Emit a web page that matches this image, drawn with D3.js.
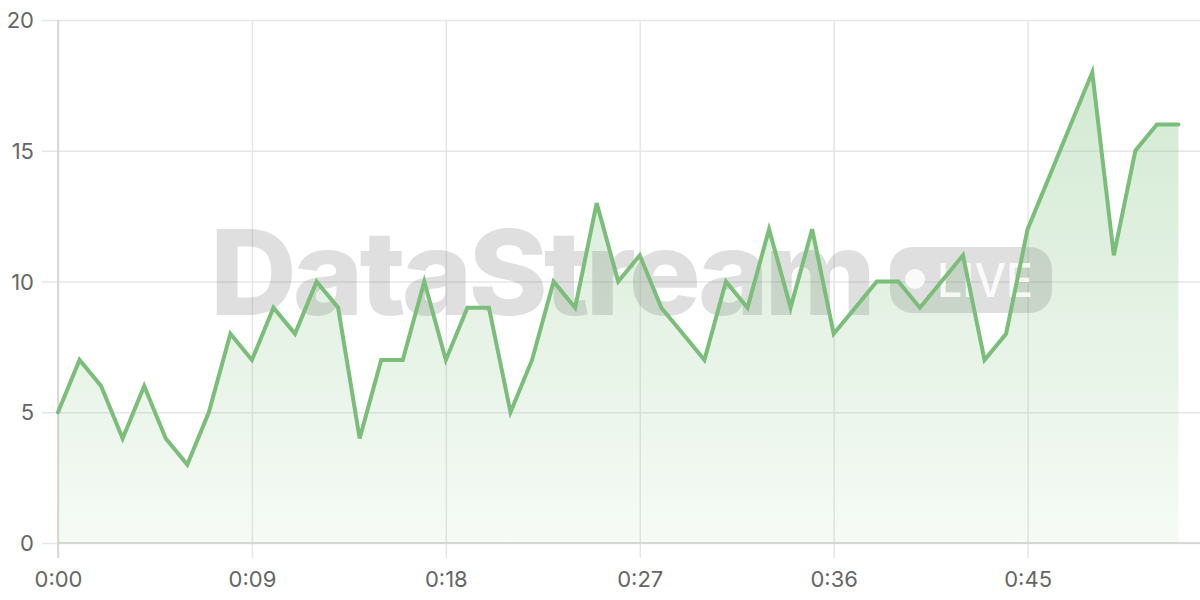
<!DOCTYPE html>
<html>
<head>
<meta charset="utf-8">
<script src="https://cdn.jsdelivr.net/npm/d3@7"></script>
<style>
  html, body { margin: 0; padding: 0; background: #fff; }
  svg { display: block; }
  svg text { font-family: Inter, "Noto Sans", sans-serif; }
</style>
</head>
<body>
<svg id="chart" width="1200" height="600"></svg>
<script>
// Data: one reading per time step (minutes 0..52)
const times = d3.range(0, 53);
const values = [5, 7, 6, 4, 6, 4, 3, 5, 8, 7,
                9, 8, 10, 9, 4, 7, 7, 10, 7, 9,
                9, 5, 7, 10, 9, 13, 10, 11, 9, 8,
                7, 10, 9, 12, 9, 12, 8, 9, 10, 10,
                9, 10, 11, 7, 8, 12, 14, 16, 18, 11,
                15, 16, 16];
const xTickValues = [0, 9, 18, 27, 36, 45];
const yTickValues = [0, 5, 10, 15, 20];
const watermarkText = "DataStream";
const badgeText = "LIVE";

(function () {
const data = times.map((t, i) => ({ t, v: values[i] }));

const svg = d3.select("#chart");
const mLeft = 58, mRight = 1200, mTop = 20, mBottom = 543;
const FONT = 'Inter, "Noto Sans", sans-serif';

const x = d3.scaleLinear().domain([0, 53]).range([mLeft, mRight]);
const y = d3.scaleLinear().domain([0, 20]).range([mBottom, mTop]);

const fmt = t => "0:" + String(t).padStart(2, "0");

// gradient
const defs = svg.append("defs");
const grad = defs.append("linearGradient")
  .attr("id", "fillGrad").attr("gradientUnits", "userSpaceOnUse")
  .attr("x1", 0).attr("y1", mTop).attr("x2", 0).attr("y2", mBottom);
grad.append("stop").attr("offset", 0).attr("stop-color", "rgb(122,190,122)").attr("stop-opacity", 0.36);
grad.append("stop").attr("offset", 1).attr("stop-color", "rgb(122,190,122)").attr("stop-opacity", 0.07);

// grid
const gridY = svg.append("g")
  .attr("transform", `translate(${mLeft},0)`)
  .call(d3.axisLeft(y).tickValues(yTickValues).tickSize(16).tickPadding(8).tickFormat(d3.format("d")));
gridY.attr("font-family", FONT).attr("font-size", 22);
gridY.select(".domain").remove();
gridY.selectAll(".tick line").attr("stroke", "#e6e6e6").attr("stroke-width", 1.5)
  .attr("x1", -16).attr("x2", mRight - mLeft);
gridY.selectAll(".tick text").attr("fill", "#666")
  .attr("x", -24).attr("dy", "0.35em");

const gridX = svg.append("g")
  .attr("transform", `translate(0,${mBottom})`)
  .call(d3.axisBottom(x).tickValues(xTickValues).tickSize(15).tickPadding(13).tickFormat(fmt));
gridX.attr("font-family", FONT).attr("font-size", 22);
gridX.select(".domain").remove();
gridX.selectAll(".tick line").attr("stroke", "#e6e6e6").attr("stroke-width", 1.5)
  .attr("y1", mTop - mBottom).attr("y2", 15);
gridX.selectAll(".tick text").attr("fill", "#666");

// axis lines
svg.append("line").attr("x1", mLeft).attr("x2", mLeft).attr("y1", mTop).attr("y2", mBottom + 15)
  .attr("stroke", "#d0d0d0").attr("stroke-width", 1.5);
svg.append("line").attr("x1", mLeft).attr("x2", mRight).attr("y1", mBottom).attr("y2", mBottom)
  .attr("stroke", "#d0d0d0").attr("stroke-width", 1.5);

// area
const area = d3.area().x(d => x(d.t)).y0(y(0)).y1(d => y(d.v));
svg.append("path").datum(data).attr("d", area).attr("fill", "url(#fillGrad)");

// watermark
const wm = svg.append("g").attr("font-family", FONT);
wm.append("text").attr("x", 210).attr("y", 315)
  .attr("font-size", 118).attr("font-weight", 800).attr("letter-spacing", -4)
  .attr("textLength", 662).attr("lengthAdjust", "spacingAndGlyphs")
  .attr("fill", "rgba(120,120,120,0.24)").text(watermarkText);
wm.append("rect").attr("x", 890).attr("y", 247).attr("width", 162).attr("height", 66)
  .attr("rx", 22).attr("fill", "rgba(120,120,120,0.24)");
wm.append("circle").attr("cx", 915).attr("cy", 279).attr("r", 10).attr("fill", "rgba(255,255,255,0.85)");
wm.append("text").attr("x", 937).attr("y", 297)
  .attr("font-size", 46).attr("font-weight", 500)
  .attr("textLength", 96).attr("lengthAdjust", "spacingAndGlyphs")
  .attr("fill", "rgba(255,255,255,0.85)").text(badgeText);

// line
const line = d3.line().x(d => x(d.t)).y(d => y(d.v));
svg.append("path").datum(data).attr("d", line)
  .attr("fill", "none").attr("stroke", "rgb(122,190,122)").attr("stroke-width", 4)
  .attr("stroke-linejoin", "miter").attr("stroke-linecap", "round");
})();
</script>
</body>
</html>
